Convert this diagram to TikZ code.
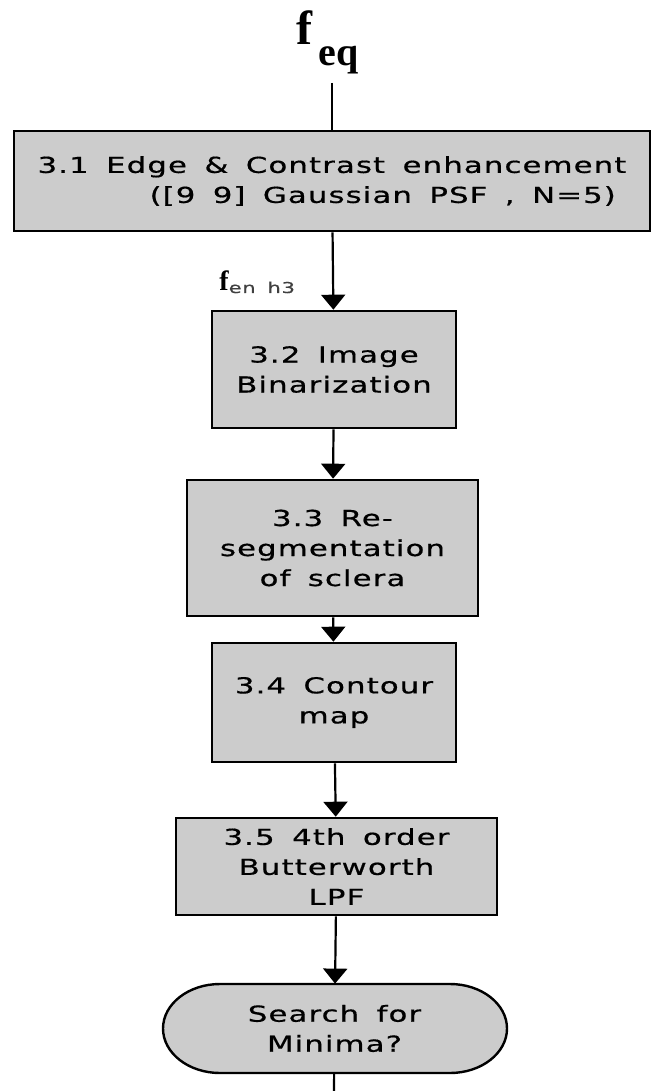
\documentclass[tikz,border=0pt]{standalone}
\usepackage{fontspec}
\setmainfont{Liberation Serif}
\newfontfamily\pixfont[FakeStretch=1.4,LetterSpace=5,WordSpace=1.6,FakeBold=0.6]{DejaVu Sans}
\usetikzlibrary{arrows.meta}
\definecolor{boxgray}{RGB}{204,204,204}

\begin{document}
\begin{tikzpicture}[x=0.5pt,y=-0.5pt,
  stage/.style={draw,line width=1.3pt,fill=boxgray,inner sep=0pt,align=center,
    font=\pixfont\fontsize{11pt}{15pt}\selectfont},
  flow/.style={line width=1.1pt,-{Triangle[width=12pt,length=7.5pt]}}]
\useasboundingbox (0,0) rectangle (654,1091);

\node[anchor=base west,inner sep=0pt] (feq) at (296,45)
  {\bfseries\fontsize{24pt}{24pt}\selectfont f\kern3pt\fontsize{20pt}{20pt}\selectfont\raisebox{-10.5pt}{eq}};
\coordinate (in) at (332,83);

\node[stage,minimum width=318pt,minimum height=50pt,align=left] (edge) at (332,181)
  {3.1 Edge \& Contrast enhancement\\ \hspace*{56pt}([9 9] Gaussian PSF , N=5)};
\node[stage,minimum width=122pt,minimum height=58.5pt] (bin) at (334,369.5)
  {3.2 Image\\Binarization};
\node[stage,minimum width=145.5pt,minimum height=68pt] (reseg) at (332.5,548)
  {3.3 Re-\\segmentation\\of sclera};
\node[stage,minimum width=122pt,minimum height=59.5pt] (cont) at (334,702.5)
  {3.4 Contour\\map};
\node[stage,minimum width=160.5pt,minimum height=48.5pt] (lpf) at (336.5,866.5)
  {3.5 4th order\\Butterworth\\LPF};

\filldraw[fill=boxgray,line width=1.2pt] (220,984) -- (450,984)
  arc[start angle=-90,end angle=90,x radius=57,y radius=44.5] -- (220,1073)
  arc[start angle=90,end angle=270,x radius=57,y radius=44.5] -- cycle;
\node[inner sep=0pt,minimum width=172.5pt,minimum height=44.5pt,align=center,
  font=\pixfont\fontsize{11pt}{15pt}\selectfont] (srch) at (334.5,1028.5) {Search for\\Minima?};
\coordinate (out) at (334,1091);

\node[anchor=base west,inner sep=0pt] (fenh) at (219,290)
  {\bfseries\fontsize{14pt}{14pt}\selectfont f\raisebox{-1.5pt}{\mdseries\pixfont\fontsize{7.5pt}{7.5pt}\selectfont\color{black!75}en h3}};

\draw[line width=1.1pt] (in) -- (edge);
\draw[flow] (edge) -- (bin);
\draw[flow] (bin) -- (reseg);
\draw[flow] (reseg) -- (cont);
\draw[flow] (cont) -- (lpf);
\draw[flow] (lpf) -- (srch);
\draw[line width=1.1pt] (srch) -- (out);
\end{tikzpicture}
\end{document}
